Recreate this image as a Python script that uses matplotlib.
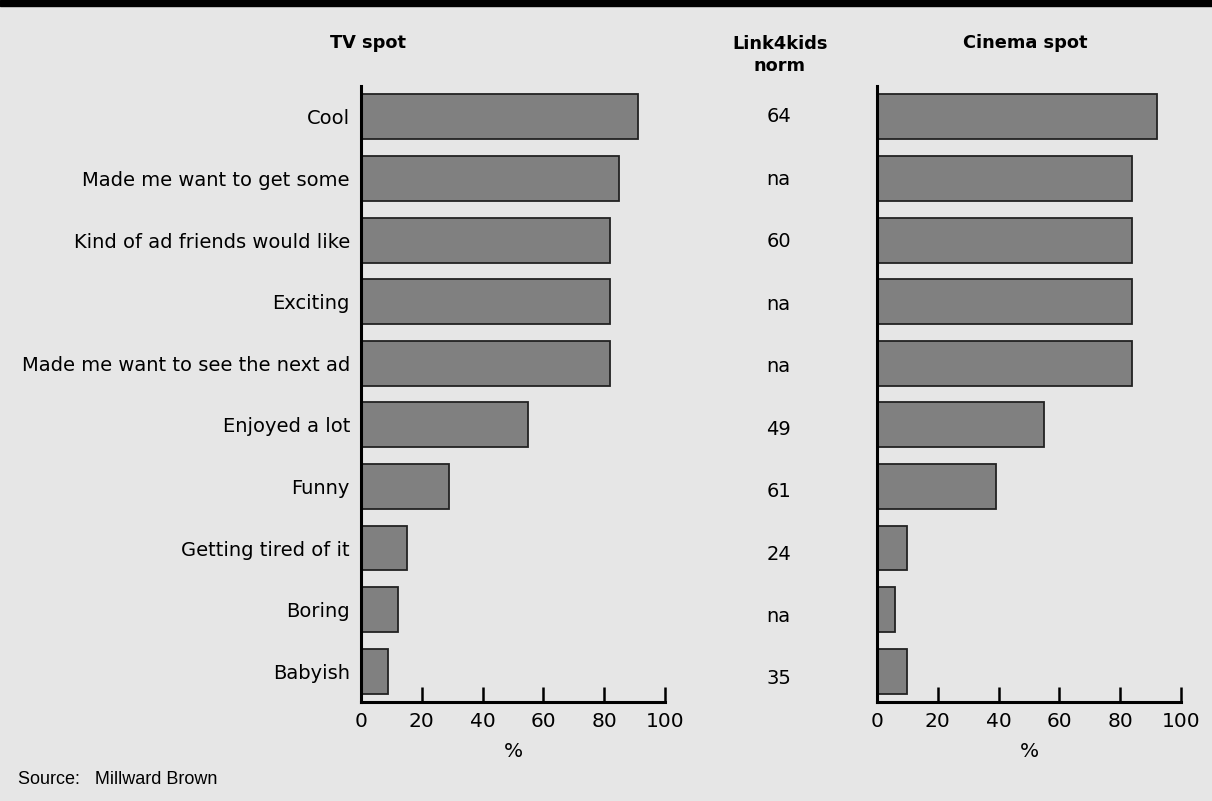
import matplotlib.pyplot as plt
import matplotlib.patches as mpatches
import matplotlib.transforms as mtransforms

# data
labels = ['Cool', 'Made me want to get some', 'Kind of ad friends would like',
          'Exciting', 'Made me want to see the next ad', 'Enjoyed a lot',
          'Funny', 'Getting tired of it', 'Boring', 'Babyish']
tv_spot = [91, 85, 82, 82, 82, 55, 29, 15, 12, 9]
cinema_spot = [92, 84, 84, 84, 84, 55, 39, 10, 6, 10]
norm = ['64', 'na', '60', 'na', 'na', '49', '61', '24', 'na', '35']
ticks = [0, 20, 40, 60, 80, 100]

bg = '#e6e6e6'
plt.rcParams['font.family'] = 'DejaVu Sans'

fig = plt.figure(figsize=(12.12, 8.01), dpi=100, facecolor=bg)

# black strip along the top
fig.patches.append(mpatches.Rectangle((0, 0.9925), 1, 0.0075, transform=fig.transFigure,
                                      color='black', zorder=0))

ax1 = fig.add_axes([0.2979, 0.1236, 0.2508, 0.769])
ax2 = fig.add_axes([0.7236, 0.1236, 0.2508, 0.769])

for ax, vals in [(ax1, tv_spot), (ax2, cinema_spot)]:
    ax.set_facecolor(bg)
    y = range(len(labels))
    ax.barh(y, vals, height=0.73, color='#808080', edgecolor='#222222', linewidth=1.3)
    ax.set_xlim(0, 100)
    ax.set_ylim(len(labels) - 0.5, -0.5)
    ax.set_xticks(ticks)
    ax.set_xticklabels([str(t) for t in ticks], fontsize=14.5)
    ax.tick_params(axis='x', direction='in', length=11, width=1.8, pad=7, colors='black')
    ax.tick_params(axis='y', length=0, pad=8)
    for s in ['top', 'right']:
        ax.spines[s].set_visible(False)
    for s in ['left', 'bottom']:
        ax.spines[s].set_linewidth(2.2)
    ax.set_xlabel('%', fontsize=14.5, labelpad=8)

ax1.set_yticks(range(len(labels)))
ax1.set_yticklabels(labels, fontsize=14)
ax2.set_yticks([])

fig.text(0.3035, 0.946, 'TV spot', fontsize=12.8, fontweight='bold', ha='center', va='center')
fig.text(0.8457, 0.946, 'Cinema spot', fontsize=12.8, fontweight='bold', ha='center', va='center')
fig.text(0.6435, 0.931, 'Link4kids\nnorm', fontsize=12.8, fontweight='bold', ha='center',
         va='center', linespacing=1.3)

# norm values in the middle column, aligned with the bar rows
trans = mtransforms.blended_transform_factory(fig.transFigure, ax1.transData)
for i, v in enumerate(norm):
    ax1.text(0.6425, i + 0.014 * i, v, transform=trans, fontsize=14,
             ha='center', va='center')

fig.text(0.015, 0.027, 'Source:   Millward Brown', fontsize=13, family='Liberation Sans',
         ha='left', va='center')

fig.savefig('out.png', dpi=100, facecolor=bg)
